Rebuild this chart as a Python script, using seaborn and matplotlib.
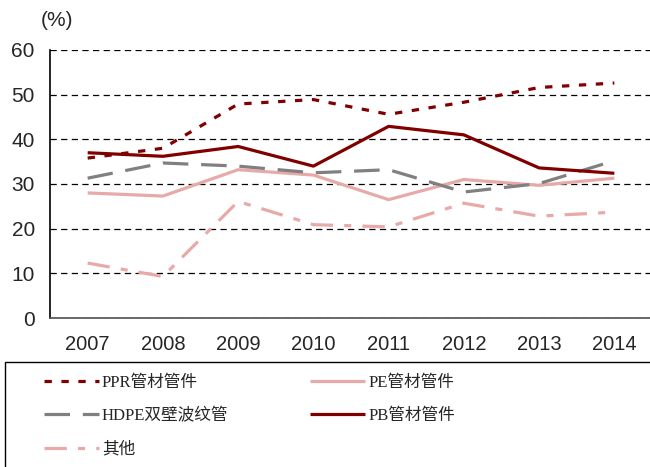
import matplotlib
matplotlib.use("Agg")
import matplotlib.pyplot as plt
import seaborn as sns
import pandas as pd
from matplotlib.patches import Rectangle

years = ["2007", "2008", "2009", "2010", "2011", "2012", "2013", "2014"]
ppr = [35.8, 38.0, 47.9, 48.9, 45.6, 48.3, 51.6, 52.6]
pe = [28.0, 27.3, 33.2, 32.0, 26.5, 31.0, 29.7, 31.3]
hdpe = [31.3, 34.7, 34.0, 32.5, 33.2, 28.2, 30.1, 35.2]
pb = [37.0, 36.2, 38.4, 34.0, 42.9, 41.0, 33.6, 32.4]
other = [12.3, 9.3, 26.1, 20.9, 20.4, 25.7, 22.8, 23.7]

names = ["PPR管材管件", "PE管材管件", "HDPE双壁波纹管", "PB管材管件", "其他"]
values = [ppr, pe, hdpe, pb, other]

DARK = "#800000"
PINK = "#E8A9A9"
GRAY = "#808080"
styles = {
    "PPR管材管件": dict(color=DARK, dashes=(2.3, 3.0)),
    "PE管材管件": dict(color=PINK, dashes=None),
    "HDPE双壁波纹管": dict(color=GRAY, dashes=(8, 4)),
    "PB管材管件": dict(color=DARK, dashes=None),
    "其他": dict(color=PINK, dashes=(7, 3.5, 2.2, 3.5)),
}

sns.set_style("white")
plt.rcParams["font.family"] = ["Liberation Sans Narrow", "Liberation Sans", "DejaVu Sans"]

fig = plt.figure(figsize=(6.5, 4.67), dpi=100)
ax = fig.add_axes([0.077, 0.319, 0.926, 0.574])

handles = {}
for name, vals in zip(names, values):
    df = pd.DataFrame({"year": years, "value": vals})
    st = styles[name]
    sns.lineplot(data=df, x="year", y="value", ax=ax, color=st["color"],
                 linewidth=2.3, sort=False)
    line = ax.get_lines()[-1]
    if st["dashes"] is not None:
        line.set_dashes(st["dashes"])
    line.set_solid_capstyle("butt")
    line.set_dash_capstyle("butt")
    handles[name] = line

ax.set_xlim(-0.5, 7.5)
ax.set_ylim(0, 60)
ax.set_yticks(range(0, 61, 10))
ax.set_xticks(range(len(years)))
ax.set_xticklabels(years)
ax.set_xticks([i - 0.5 for i in range(len(years) + 1)], minor=True)
ax.tick_params(axis="x", which="major", length=0, labelsize=14.5, pad=12)
ax.tick_params(axis="x", which="minor", length=6, width=1, color="#404040", direction="out")
ax.tick_params(axis="y", length=7, width=1, color="black", direction="out", labelsize=15, pad=4)
ax.set_xlabel("")
ax.set_ylabel("")
ax.grid(axis="y", color="black", linestyle=(0, (5, 3.5)), linewidth=0.9)
ax.set_axisbelow(True)
for s in ["top", "right"]:
    ax.spines[s].set_visible(False)
ax.spines["left"].set_color("black")
ax.spines["left"].set_linewidth(1.2)
ax.spines["bottom"].set_color("#505050")
ax.spines["bottom"].set_linewidth(1.2)

fig.text(0.062, 0.957, "(%)", fontsize=15, ha="left", va="center")

# legend border
fig.patches.append(Rectangle((0.008, -0.05), 1.05, 0.275, transform=fig.transFigure,
                             fill=False, edgecolor="black", linewidth=1.0))

order = ["PPR管材管件", "HDPE双壁波纹管", "其他", "PE管材管件", "PB管材管件"]
leg = fig.legend([handles[n] for n in order], order, ncol=2, frameon=False,
                 loc="upper left", bbox_to_anchor=(0.044, 0.23),
                 handlelength=3.3, handletextpad=0.2, columnspacing=4.9,
                 labelspacing=1.05,
                 prop=dict(family=["Liberation Serif", "Noto Sans CJK SC"], size=12))

fig.savefig("out.png", dpi=100)
